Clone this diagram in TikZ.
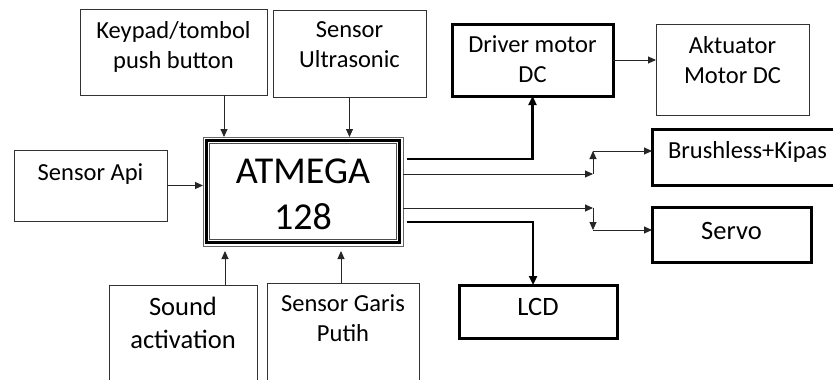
\documentclass[tikz,border=0pt]{standalone}
\usepackage{fontspec}
\setmainfont{Carlito}
\usetikzlibrary{arrows.meta}

\tikzset{
  kotak/.style={draw=black!80,line width=0.9pt,inner sep=0pt,outer sep=0pt},
  tebal/.style={draw=black,line width=3pt,inner sep=0pt,outer sep=0pt},
  isi/.style={anchor=north,inner sep=0pt,outer sep=0pt,align=center,
    font=\fontsize{24.5}{30}\selectfont,execute at begin node={\rule{0pt}{18pt}}},
  tulis/.style={label={[isi,yshift=-12pt]north:#1}},
  tulisb/.style={label={[isi,font=\fontsize{26.5}{33}\selectfont,yshift=-12pt]north:#1}},
  panah/.style={-{Triangle[length=8pt,width=7pt]},line width=0.9pt,draw=black!85},
  panahtebal/.style={-{Triangle[length=9pt,width=8pt]},line width=2.6pt},
}

\begin{document}
\begin{tikzpicture}[x=1pt,y=-1pt]
\useasboundingbox (0,0) rectangle (833,380);

\node[kotak,minimum width=187,minimum height=86,tulis={Keypad/tombol\\push button}] (keypad) at (173.5,52) {};
\node[kotak,minimum width=153,minimum height=87,tulis={Sensor\\Ultrasonic}] (ultra) at (349.5,53.5) {};
\node[kotak,minimum width=153,minimum height=71,tulis={Sensor Api}] (api) at (90.5,185.5) {};
\node[kotak,minimum width=148,minimum height=100,tulisb={Sound\\activation}] (sound) at (183,335) {};
\node[kotak,minimum width=152,minimum height=102,tulis={Sensor Garis\\Putih}] (garis) at (343,334) {};

\node[kotak,draw=black!60,minimum width=200,minimum height=109] (atmega) at (303,191.5) {};
\draw[line width=2.8pt] ([shift={(3.2,3.2)}]atmega.north west) rectangle ([shift={(-3.2,-3.2)}]atmega.south east);
\draw[line width=0.7pt,draw=black!70] ([shift={(6.5,6.5)}]atmega.north west) rectangle ([shift={(-6.5,-6.5)}]atmega.south east);
\node[anchor=north,align=center,inner sep=0pt,font=\fontsize{38}{46}\selectfont] (atmegatxt)
  at ([yshift=-21.5pt]atmega.north) {ATMEGA\\128};

\node[tebal,minimum width=161,minimum height=72,tulis={Driver motor\\DC}] (driver) at (532.5,60) {};
\node[kotak,minimum width=153,minimum height=91,tulis={Aktuator\\Motor DC}] (aktuator) at (732.5,69.5) {};
\node[tebal,minimum width=196,minimum height=56,
  label={[isi,yshift=-11pt,xshift=-2.5pt]north:Brushless+Kipas}] (brush) at (750,157) {};
\node[tebal,minimum width=159,minimum height=55,
  label={[isi,font=\fontsize{26.5}{33}\selectfont,yshift=-14pt]north:Servo}] (servo) at (731.5,234.5) {};
\node[tebal,minimum width=158,minimum height=53,tulisb={LCD}] (lcd) at (538,311.5) {};

\draw[panah] ([xshift=50.5pt]keypad.south) -- ([xshift=50.5pt]keypad.south |- atmega.north);
\draw[panah] (ultra.south) -- (ultra.south |- atmega.north);
\draw[panah] (api.east) -- (api.east -| atmega.west);
\draw[panah,shorten >=5pt] ([xshift=42pt]sound.north) -- ([xshift=42pt]sound.north |- atmega.south);
\draw[panah,shorten >=5pt] ([xshift=-2pt]garis.north) -- ([xshift=-2pt]garis.north |- atmega.south);

\draw[panahtebal] ([shift={(4,-32.5)}]atmega.east) -| (driver.south);
\draw[panahtebal] ([shift={(4,30.5)}]atmega.east) -| ([xshift=-5pt]lcd.north);
\draw[panah] (driver.east) -- (driver.east -| aktuator.west);

\coordinate (bj1) at (593,174);
\coordinate (bj2) at (593,151);
\coordinate (sj1) at (593,208);
\coordinate (sj2) at (593,230);
\draw[panah] (atmega.east |- bj1) -- (bj1);
\draw[panah] (bj1) -- (bj2);
\draw[panah] (bj2) -- (bj2 -| brush.west);
\draw[panah] (atmega.east |- sj1) -- (sj1);
\draw[panah] (sj1) -- (sj2);
\draw[panah] (sj2) -- (sj2 -| servo.west);
\end{tikzpicture}
\end{document}
